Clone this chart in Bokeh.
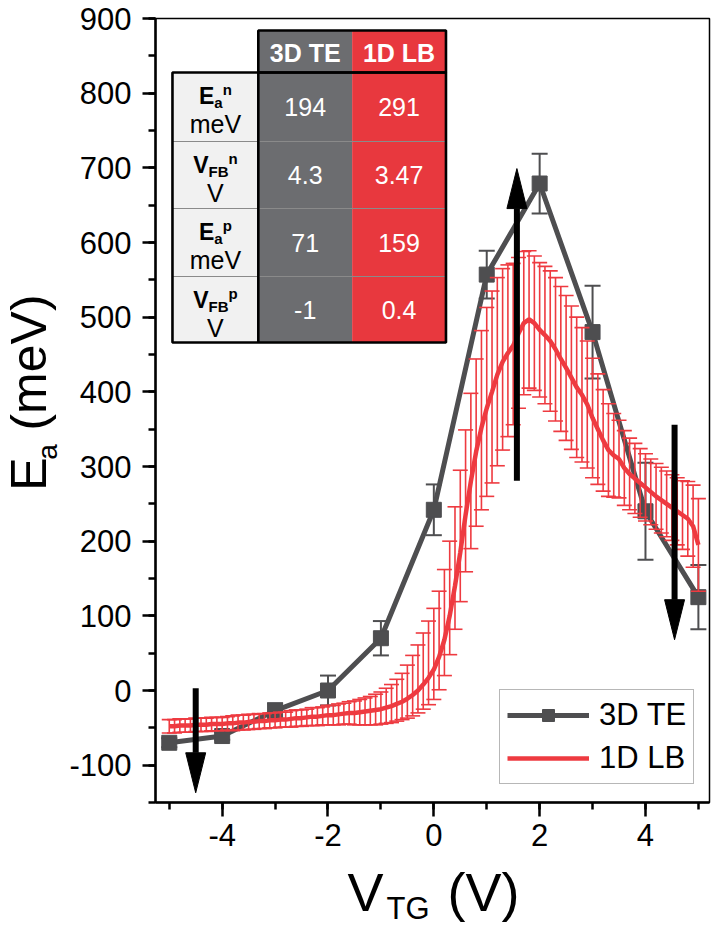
import math
from bokeh.plotting import figure
from bokeh.layouts import row, column
from bokeh.models import (Legend, LegendItem, Label, SingleIntervalTicker,
                          PrintfTickFormatter, Range1d)
from bokeh.embed import file_html
from bokeh.resources import INLINE

# ---------------- data ----------------
te_x = [-5, -4, -3, -2, -1, 0, 1, 2, 3, 4, 5]
te_y = [-70, -61, -27, 0, 70, 242, 557, 679, 480, 240, 125]
te_err = [6, 5, 10, 20, 23, 34, 32, 40, 62, 65, 43]

lb_x = [-5.0, -4.9, -4.8, -4.7, -4.6, -4.5, -4.4, -4.3, -4.2, -4.1,
        -4.0, -3.9, -3.8, -3.7, -3.6, -3.5, -3.4, -3.3, -3.2, -3.1,
        -3.0, -2.9, -2.8, -2.7, -2.6, -2.5, -2.4, -2.3, -2.2, -2.1,
        -2.0, -1.9, -1.8, -1.7, -1.6, -1.5, -1.4, -1.3, -1.2, -1.1,
        -1.0, -0.9, -0.8, -0.7, -0.6, -0.5, -0.4, -0.3, -0.2, -0.1,
        0.0, 0.1, 0.2, 0.3, 0.4, 0.5, 0.6, 0.7, 0.8, 0.9,
        1.0, 1.1, 1.2, 1.3, 1.4, 1.5, 1.6, 1.7, 1.8, 1.9,
        2.0, 2.1, 2.2, 2.3, 2.4, 2.5, 2.6, 2.7, 2.8, 2.9,
        3.0, 3.1, 3.2, 3.3, 3.4, 3.5, 3.6, 3.7, 3.8, 3.9,
        4.0, 4.1, 4.2, 4.3, 4.4, 4.5, 4.6, 4.7, 4.8, 4.9,
        5.0]
lb_y = [-48, -48, -47, -47, -47, -46, -46, -46, -45, -45,
        -45, -44, -44, -43, -43, -42, -42, -41, -41, -40,
        -40, -39, -39, -38, -37, -37, -36, -35, -35, -34,
        -33, -33, -32, -31, -30, -30, -29, -28, -27, -26,
        -25, -23, -21, -18, -15, -11, -6, 0, 8, 17,
        28, 45, 68, 100, 140, 185, 235, 280, 320, 352,
        378, 400, 423, 440, 452, 462, 478, 492, 497, 492,
        483, 476, 468, 457, 444, 432, 419, 406, 396, 383,
        365, 350, 335, 322, 315, 310, 298, 290, 284, 278,
        272, 266, 260, 255, 250, 245, 240, 235, 230, 220,
        195]
lb_err_hi = [9, 9, 9, 9, 9, 9, 9, 9, 9, 9,
             9, 9, 10, 10, 10, 10, 10, 10, 10, 10,
             10, 10, 10, 11, 11, 11, 11, 12, 12, 12,
             13, 13, 14, 14, 15, 16, 17, 18, 19, 21,
             23, 26, 29, 33, 38, 45, 53, 61, 69, 76,
             82, 88, 94, 100, 106, 110, 114, 118, 124, 130,
             135, 135, 130, 125, 118, 110, 102, 96, 92, 90,
             90, 92, 94, 96, 97, 97, 96, 94, 90, 85,
             80, 74, 68, 62, 56, 52, 50, 48, 47, 46,
             45, 44, 44, 44, 44, 44, 45, 46, 50, 55,
             62]
lb_err_lo = [9, 9, 9, 9, 9, 9, 9, 9, 9, 9,
             9, 9, 10, 10, 10, 10, 10, 10, 10, 10,
             10, 10, 10, 11, 11, 11, 11, 12, 12, 12,
             13, 13, 14, 14, 15, 16, 17, 18, 19, 20,
             20, 21, 22, 23, 24, 26, 28, 30, 33, 36,
             40, 44, 48, 52, 58, 66, 76, 90, 100, 110,
             118, 122, 122, 118, 112, 106, 100, 96, 92, 90,
             90, 92, 94, 96, 97, 97, 96, 94, 90, 85,
             80, 74, 68, 62, 56, 52, 50, 48, 47, 46,
             45, 44, 44, 44, 44, 44, 45, 46, 50, 55,
             62]

series_names = ["3D TE", "1D LB"]
table_rows_sym = ["E", "V", "E", "V"]
table_rows_sub = ["a", "FB", "a", "FB"]
table_rows_sup = ["n", "n", "p", "p"]
table_rows_unit = ["meV", "V", "meV", "V"]
table_te = ["194", "4.3", "71", "-1"]
table_lb = ["291", "3.47", "159", "0.4"]

arrow_x = [-4.5, 1.57, 4.55]
arrow_from = [3, 281, 356]
arrow_to = [-137, 699, 68]

# ---------------- layout (absolute page pixels) ----------------
X0, X1 = -5.26, 5.21
Y0, Y1 = -150, 900
W, H = 716, 927
FL, FR, FT, FB = 154, 709, 18, 802
YLAB_W = 66          # strip on the left holding the y title
MAIN_H = 860         # main figure height; x title strip below it
MID = 0.3465         # baseline -> middle of text box, in em

def dx(px):
    return X0 + (px - FL) * (X1 - X0) / (FR - FL)

def dy(py):
    return Y0 + (FB - py) * (Y1 - Y0) / (FB - FT)

GRAY = "#4e4e50"
RED = "#ee3a40"
FONT = "Liberation Sans"

p = figure(width=W - YLAB_W, height=MAIN_H, x_range=(X0, X1), y_range=(Y0, Y1),
           output_backend="svg", toolbar_location=None, title_location=None,
           min_border_left=FL - YLAB_W, min_border_right=W - FR,
           min_border_top=FT, min_border_bottom=MAIN_H - FB)
p.grid.visible = False
p.outline_line_color = "black"
p.outline_line_width = 1.5
p.background_fill_color = "white"
p.border_fill_color = "white"

for ax in (p.xaxis[0], p.yaxis[0]):
    ax.axis_line_width = 2.5
    ax.axis_line_color = "black"
    ax.major_tick_line_width = 2.5
    ax.minor_tick_line_width = 2.5
    ax.major_tick_line_color = "black"
    ax.minor_tick_line_color = "black"
    ax.major_tick_in = 0
    ax.minor_tick_in = 0
    ax.major_label_text_font = FONT
    ax.major_label_text_font_size = "31px"
    ax.major_label_text_color = "black"
    ax.axis_label = None
    ax.formatter = PrintfTickFormatter(format="%d")
p.xaxis.ticker = SingleIntervalTicker(interval=2, num_minor_ticks=2)
p.yaxis.ticker = SingleIntervalTicker(interval=100, num_minor_ticks=2)
p.xaxis.major_tick_out = 14
p.xaxis.minor_tick_out = 7
p.yaxis.major_tick_out = 13
p.yaxis.minor_tick_out = 7
p.xaxis.major_label_standoff = 7
p.yaxis.major_label_standoff = 11

# ---------------- 3D TE ----------------
te_lo = [y - e for y, e in zip(te_y, te_err)]
te_hi = [y + e for y, e in zip(te_y, te_err)]
p.segment(te_x, te_lo, te_x, te_hi, line_color=GRAY, line_width=2)
p.scatter(te_x + te_x, te_lo + te_hi, marker="dash", size=16,
          line_color=GRAY, line_width=2)
gray_line = p.line(te_x, te_y, line_color=GRAY, line_width=5)
gray_sq = p.scatter(te_x, te_y, marker="square", size=15,
                    fill_color=GRAY, line_color=GRAY)

# ---------------- 1D LB ----------------
lb_lo = [y - e for y, e in zip(lb_y, lb_err_lo)]
lb_hi = [y + e for y, e in zip(lb_y, lb_err_hi)]
p.segment(lb_x, lb_lo, lb_x, lb_hi, line_color=RED, line_width=1.6)
p.scatter(lb_x + lb_x, lb_lo + lb_hi, marker="dash", size=15,
          line_color=RED, line_width=1.6)
red_line = p.line(lb_x, lb_y, line_color=RED, line_width=4.5)

# ---------------- arrows ----------------
HEAD_LEN = 40 * (Y1 - Y0) / (FB - FT)
HEAD_HW = 10 * (X1 - X0) / (FR - FL)
shaft_end = []
xs, ys = [], []
for ax_, a0, a1 in zip(arrow_x, arrow_from, arrow_to):
    s = 1 if a1 > a0 else -1
    base = a1 - s * HEAD_LEN
    shaft_end.append(base)
    xs.append([ax_ - HEAD_HW, ax_ + HEAD_HW, ax_])
    ys.append([base, base, a1])
p.segment(arrow_x, arrow_from, arrow_x, shaft_end, line_color="black",
          line_width=6)
p.patches(xs, ys, fill_color="black", line_color="black", line_width=1)

# ---------------- inset table ----------------
cols_px = [171, 257, 351, 445]
head_px = [30, 72]
rows_px = [72, 141, 208, 276, 342]
LBL_BG, TE_BG, LB_BG = "#f1f1f1", "#6c6d70", "#e8383e"

p.quad(left=[dx(cols_px[1]), dx(cols_px[2])], right=[dx(cols_px[2]), dx(cols_px[3])],
       top=[dy(head_px[0])] * 2, bottom=[dy(head_px[1])] * 2,
       fill_color=[TE_BG, LB_BG], line_color=None)
for c, colr in enumerate([LBL_BG, TE_BG, LB_BG]):
    p.quad(left=[dx(cols_px[c])] * 4, right=[dx(cols_px[c + 1])] * 4,
           top=[dy(v) for v in rows_px[:-1]], bottom=[dy(v) for v in rows_px[1:]],
           fill_color=colr, line_color=None)
sep_y = [dy(v) for v in rows_px[1:-1]]
p.segment([dx(cols_px[0])] * 3, sep_y, [dx(cols_px[3])] * 3, sep_y,
          line_color="#8a8a8a", line_width=1.2)
p.quad(left=[dx(cols_px[1]), dx(cols_px[0])], right=[dx(cols_px[3]), dx(cols_px[3])],
       top=[dy(head_px[0]), dy(rows_px[0])], bottom=[dy(head_px[1]), dy(rows_px[-1])],
       fill_alpha=0, line_color="black", line_width=2.6)
p.segment([dx(cols_px[1])], [dy(rows_px[0])], [dx(cols_px[1])], [dy(rows_px[-1])],
          line_color="black", line_width=2.6)


def put(fig, text, px, py, size, conv, bold=False, color="black",
        align="left", rotated=False, on_baseline=True):
    """Place a text; (px, py) is the baseline point in page pixels unless
    on_baseline is False (then it is the middle of the text box)."""
    if on_baseline:
        if rotated:
            px = px - MID * size
        else:
            py = py - MID * size
    x, y = conv(px, py)
    fig.add_layout(Label(x=x, y=y, text=text, text_font=FONT,
                         text_font_size=f"{size}px",
                         text_font_style="bold" if bold else "normal",
                         text_color=color, text_align=align,
                         text_baseline="middle",
                         angle=math.pi / 2 if rotated else 0.0))


def conv_main(px, py):
    return dx(px), dy(py)


cx = [(cols_px[i] + cols_px[i + 1]) / 2 for i in range(3)]
for name, x_c in zip(series_names, cx[1:]):
    put(p, name, x_c, (head_px[0] + head_px[1]) / 2 + 1, 25, conv_main,
        bold=True, color="white", align="center", on_baseline=False)

BW = {"E": 0.667, "V": 0.667, "a": 0.556, "F": 0.611, "B": 0.722,
      "n": 0.611, "p": 0.611}
for r in range(4):
    top = rows_px[r]
    mid = (rows_px[r] + rows_px[r + 1]) / 2
    s_main, s_sub, s_sup = 23, 15, 15
    w_main = BW[table_rows_sym[r]] * s_main
    w_sub = sum(BW[ch] for ch in table_rows_sub[r]) * s_sub
    w_sup = BW[table_rows_sup[r]] * s_sup
    x0 = cx[0] - (w_main + w_sub + w_sup) / 2
    bl = top + 31
    put(p, table_rows_sym[r], x0, bl, s_main, conv_main, bold=True)
    put(p, table_rows_sub[r], x0 + w_main, bl + 4, s_sub, conv_main, bold=True)
    put(p, table_rows_sup[r], x0 + w_main + w_sub, bl - 9, s_sup, conv_main, bold=True)
    put(p, table_rows_unit[r], cx[0], top + 60, 25, conv_main, align="center")
    put(p, table_te[r], cx[1], mid, 25, conv_main, color="white", align="center",
        on_baseline=False)
    put(p, table_lb[r], cx[2], mid, 25, conv_main, color="white", align="center",
        on_baseline=False)

# ---------------- legend ----------------
legend = Legend(items=[LegendItem(label=series_names[0], renderers=[gray_line, gray_sq]),
                       LegendItem(label=series_names[1], renderers=[red_line])],
                location=(344, 18), orientation="vertical",
                label_text_font=FONT, label_text_font_size="31px",
                label_text_color="black",
                glyph_width=82, glyph_height=30, label_height=30,
                padding=7, spacing=7, label_standoff=10, margin=0,
                border_line_color="#707070", border_line_width=1.5,
                background_fill_color="white", background_fill_alpha=1)
p.add_layout(legend)


# ---------------- axis title strips ----------------
def strip(width, height):
    f = figure(width=width, height=height,
               x_range=Range1d(0, width), y_range=Range1d(0, height),
               output_backend="svg", toolbar_location=None, title_location=None,
               x_axis_type=None, y_axis_type=None, min_border=0)
    f.outline_line_color = None
    f.background_fill_color = "white"
    f.border_fill_color = "white"
    return f


ylab = strip(YLAB_W, MAIN_H)
def conv_y(px, py):
    return px, MAIN_H - py
put(ylab, "E", 46, 518, 50, conv_y, rotated=True)
put(ylab, "a", 57, 484, 28, conv_y, rotated=True)
put(ylab, "(meV)", 46, 452, 50, conv_y, rotated=True)

xlab = strip(W, H - MAIN_H)
def conv_x(px, py):
    return px, H - py
put(xlab, "V", 347, 910, 54, conv_x)
put(xlab, "TG", 386, 919, 31, conv_x)
put(xlab, "(V)", 447, 910, 54, conv_x)

layout = column(row(ylab, p, spacing=0), xlab, spacing=0)
open("out.html", "w").write(file_html(layout, INLINE))
